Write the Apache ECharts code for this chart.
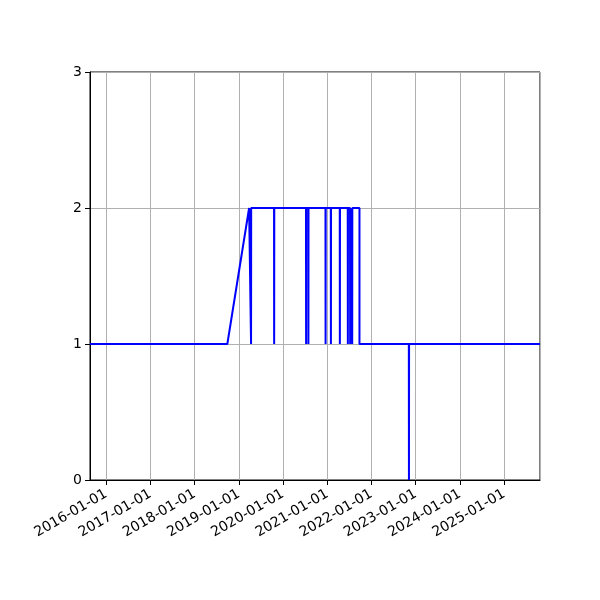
<!DOCTYPE html>
<html>
<head>
<meta charset="utf-8">
<script src="https://cdn.jsdelivr.net/npm/echarts@6/dist/echarts.min.js"></script>
<style>
  html, body { margin: 0; padding: 0; background: #fff; }
  #main { width: 600px; height: 600px; }
</style>
</head>
<body>
<div id="main"></div>
<script>
var myChart = echarts.init(document.getElementById('main'));

// x range of the plot (data limits)
var xStart = '2015-08-20';
var xEnd = '2025-10-25';

// dates and values of the step line
var dates = [
    '2015-08-20', '2018-09-28', '2019-03-27',
    '2019-04-11', '2019-04-12', '2019-04-13',
    '2019-10-19', '2019-10-20', '2019-10-21',
    '2020-07-09', '2020-07-10', '2020-07-11',
    '2020-07-28', '2020-07-29', '2020-07-30',
    '2020-12-17', '2020-12-18', '2020-12-19',
    '2021-01-30', '2021-01-31', '2021-02-01',
    '2021-04-14', '2021-04-15', '2021-04-16',
    '2021-06-19', '2021-06-20', '2021-06-21',
    '2021-07-08', '2021-07-09', '2021-07-10',
    '2021-07-25', '2021-07-26', '2021-07-27',
    '2021-09-24', '2021-09-24',
    '2022-11-06', '2022-11-07', '2022-11-08',
    '2025-10-25'
];
var values = [
    1, 1, 2,
    2, 1, 2,
    2, 1, 2,
    2, 1, 2,
    2, 1, 2,
    2, 1, 2,
    2, 1, 2,
    2, 1, 2,
    2, 1, 2,
    2, 1, 2,
    2, 1, 2,
    2, 1,
    1, 0, 1,
    1
];

var yTicks = [0, 1, 2, 3];

var seriesData = dates.map(function (d, i) {
    return [d, values[i]];
});

var option = {
    animation: false,
    grid: {
        left: 90,
        right: 60,
        top: 72,
        bottom: 120,
        show: true,
        borderColor: '#000',
        borderWidth: 1,
        backgroundColor: 'transparent'
    },
    xAxis: {
        type: 'time',
        min: xStart,
        max: xEnd,
        minInterval: 365 * 24 * 3600 * 1000,
        maxInterval: 366 * 24 * 3600 * 1000,
        axisLine: { show: true, onZero: false, lineStyle: { color: '#000', width: 1 } },
        axisTick: { show: true, inside: false, length: 5, lineStyle: { color: '#000' } },
        splitLine: { show: true, lineStyle: { color: '#b0b0b0', width: 1 } },
        minorTick: { show: false },
        axisLabel: {
            rotate: 30,
            color: '#000',
            fontSize: 14,
            fontFamily: 'DejaVu Sans',
            margin: 13,
            showMinLabel: false,
            showMaxLabel: false,
            formatter: '{yyyy}-{MM}-{dd}'
        }
    },
    yAxis: {
        type: 'value',
        min: yTicks[0],
        max: yTicks[yTicks.length - 1],
        interval: 1,
        axisLine: { show: true, lineStyle: { color: '#000', width: 1 } },
        axisTick: { show: true, inside: false, length: 5, lineStyle: { color: '#000' } },
        splitLine: { show: true, lineStyle: { color: '#b0b0b0', width: 1 } },
        axisLabel: {
            color: '#000',
            fontSize: 14,
            fontFamily: 'DejaVu Sans',
            margin: 8
        }
    },
    series: [
        {
            type: 'line',
            data: seriesData,
            showSymbol: false,
            symbol: 'none',
            lineStyle: { color: '#0000ff', width: 2 },
            z: 3
        }
    ]
};

option && myChart.setOption(option);
</script>
</body>
</html>
